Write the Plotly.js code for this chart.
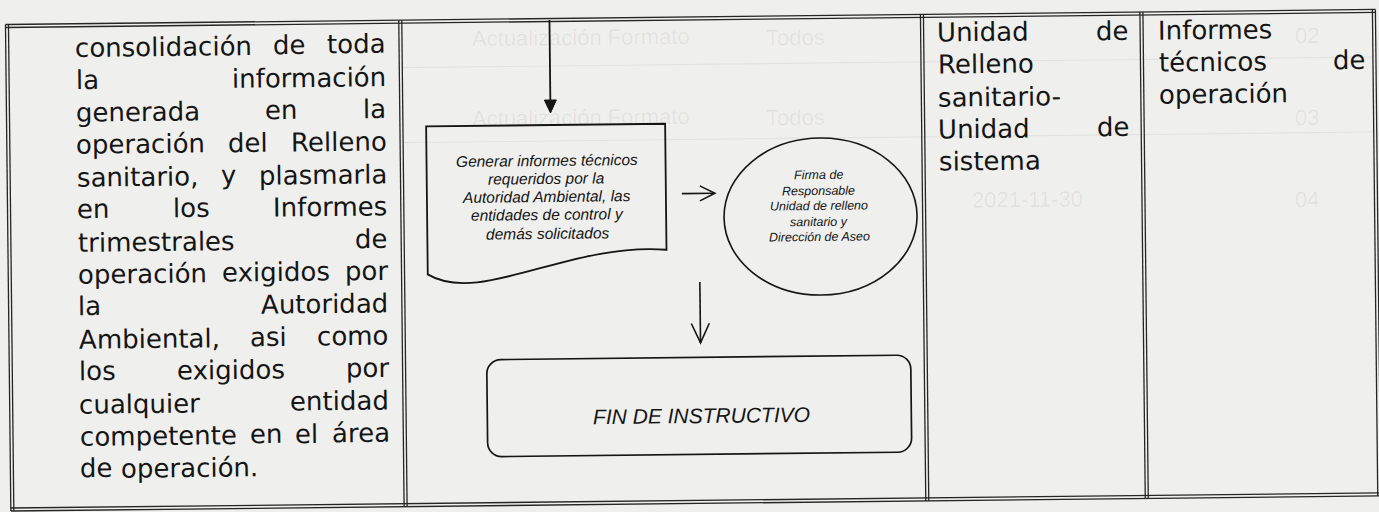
<!DOCTYPE html>
<html><head><meta charset="utf-8">
<script src="https://cdn.plot.ly/plotly-3.0.1.min.js"></script>
<style>html,body{margin:0;padding:0;background:#efefed;} #chart{width:1379px;height:512px;}</style>
</head><body><div id="chart"></div>
<script>
// ---------- content ----------
const leftRows = [
  "consolidación de toda",
  "la información",
  "generada en la",
  "operación del Relleno",
  "sanitario, y plasmarla",
  "en los Informes",
  "trimestrales de",
  "operación exigidos por",
  "la Autoridad",
  "Ambiental, asi como",
  "los exigidos por",
  "cualquier entidad",
  "competente en el área",
  "de operación."
];
const unitRows = ["Unidad de", "Relleno", "sanitario-", "Unidad de", "sistema"];
const outputRows = ["Informes", "técnicos de", "operación"];
const docLines = ["Generar informes técnicos", "requeridos por la", "Autoridad Ambiental, las", "entidades de control y", "demás solicitados"];
const ellipseLines = ["Firma de", "Responsable", "Unidad de relleno", "sanitario y", "Dirección de Aseo"];
const endLabel = "FIN DE INSTRUCTIVO";
// faint show-through from the reverse side of the scanned sheet
const ghostLabels = ["Actualización Formato", "Todos", "Actualización Formato", "Todos", "2021-11-30", "02", "03", "04"];

// ---------- page geometry (scan is slightly rotated) ----------
const O = {x: 7, y: 26}, S = 0.011, C = Math.sqrt(1 - S * S);
const ANG = -Math.asin(S) * 180 / Math.PI;
function P(u, v) { return [O.x + u * C + v * S, O.y - u * S + v * C]; }
function pt(u, v) { const p = P(u, v); return p[0].toFixed(2) + ',' + p[1].toFixed(2); }

const W = 1367, H = 483.5;
const colU = [0, 393.3, 915, 1134.5, W];

const INK = '#151515', LINE = '#262626';
const shapes = [];
function pathShape(d, w, col, fill) {
  shapes.push({type: 'path', xref: 'x', yref: 'y', path: d,
    line: {color: col || LINE, width: w}, fillcolor: fill || 'rgba(0,0,0,0)'});
}
function dbl(u1, v1, u2, v2) {
  const du = u2 - u1, dv = v2 - v1, L = Math.hypot(du, dv);
  const nu = -dv / L, nv = du / L, o = 1.5;
  [-o, o].forEach(k => pathShape('M' + pt(u1 + nu * k, v1 + nv * k) + ' L' + pt(u2 + nu * k, v2 + nv * k), 1.3));
}
// faint ruled lines showing through
[46, 121].forEach(v => pathShape('M' + pt(395, v) + ' L' + pt(W, v), 1.2, 'rgba(0,0,0,0.05)'));

// table borders
dbl(-1.5, 0, W + 1.5, 0);
dbl(-1.5, H, W + 1.5, H);
colU.forEach(u => dbl(u, -1.5, u, H + 1.5));

// down arrow into document
pathShape('M' + pt(542.5, 0) + ' L' + pt(542.5, 82), 1.8, INK);
pathShape('M' + pt(536.5, 80) + ' L' + pt(548.5, 80) + ' L' + pt(542.5, 93) + ' Z', 1, INK, INK);

// document shape
pathShape('M' + pt(418, 105) + ' L' + pt(657, 105) + ' L' + pt(657, 231) +
  ' C' + pt(560, 222) + ' ' + pt(470, 285) + ' ' + pt(418, 253) + ' Z', 1.8, INK);

// right arrow
pathShape('M' + pt(673, 175) + ' L' + pt(706, 175), 1.6, INK);
pathShape('M' + pt(691, 167.5) + ' L' + pt(706, 175) + ' L' + pt(691, 182.5), 1.6, INK);

// ellipse
(function () {
  const cu = 811.4, cv = 199.5, ru = 96.5, rv = 78.5, k = 0.5523;
  const d = 'M' + pt(cu + ru, cv) +
    ' C' + pt(cu + ru, cv + k * rv) + ' ' + pt(cu + k * ru, cv + rv) + ' ' + pt(cu, cv + rv) +
    ' C' + pt(cu - k * ru, cv + rv) + ' ' + pt(cu - ru, cv + k * rv) + ' ' + pt(cu - ru, cv) +
    ' C' + pt(cu - ru, cv - k * rv) + ' ' + pt(cu - k * ru, cv - rv) + ' ' + pt(cu, cv - rv) +
    ' C' + pt(cu + k * ru, cv - rv) + ' ' + pt(cu + ru, cv - k * rv) + ' ' + pt(cu + ru, cv) + ' Z';
  pathShape(d, 1.6, INK);
})();

// down arrow to end
pathShape('M' + pt(690, 263.5) + ' L' + pt(690, 324.5), 1.6, INK);
pathShape('M' + pt(681, 305) + ' L' + pt(690, 324.5) + ' L' + pt(699, 305), 1.6, INK);

// rounded rectangle
(function () {
  const u0 = 476, u1 = 900, v0 = 339, v1 = 436, r = 14, k = 0.5523 * r;
  const d = 'M' + pt(u0 + r, v0) + ' L' + pt(u1 - r, v0) +
    ' C' + pt(u1 - r + k, v0) + ' ' + pt(u1, v0 + r - k) + ' ' + pt(u1, v0 + r) +
    ' L' + pt(u1, v1 - r) +
    ' C' + pt(u1, v1 - r + k) + ' ' + pt(u1 - r + k, v1) + ' ' + pt(u1 - r, v1) +
    ' L' + pt(u0 + r, v1) +
    ' C' + pt(u0 + r - k, v1) + ' ' + pt(u0, v1 - r + k) + ' ' + pt(u0, v1 - r) +
    ' L' + pt(u0, v0 + r) +
    ' C' + pt(u0, v0 + r - k) + ' ' + pt(u0 + r - k, v0) + ' ' + pt(u0 + r, v0) + ' Z';
  pathShape(d, 1.7, INK);
})();

// ---------- text ----------
const annotations = [];
const ctx = document.createElement('canvas').getContext('2d');
function measure(t, size, fam) { ctx.font = size + "px '" + fam + "'"; return ctx.measureText(t).width; }
function word(t, u, v, size, fam, anchor, italic, color) {
  const p = P(u, v);
  annotations.push({x: p[0], y: p[1], xref: 'x', yref: 'y', text: italic ? '<i>' + t + '</i>' : t,
    showarrow: false, xanchor: anchor, yanchor: 'middle', borderpad: 0, borderwidth: 0,
    textangle: ANG, font: {family: fam, size: size, color: color || INK}});
}
const VF = 'DejaVu Sans', VS = 26;
function justify(rows, u0, u1, v0, dv) {
  rows.forEach((row, i) => {
    const words = row.split(' ');
    const ws = words.map(w => measure(w, VS, VF));
    const sum = ws.reduce((a, b) => a + b, 0);
    const last = i === rows.length - 1;
    const gap = (words.length === 1 || last) ? measure(' ', VS, VF) : (u1 - u0 - sum) / (words.length - 1);
    let u = u0;
    const v = v0 + i * dv;
    words.forEach((w, j) => { word(w, u, v, VS, VF, 'left'); u += ws[j] + gap; });
  });
}
justify(leftRows, 68, 378, 22, 32.4);
justify(unitRows, 930, 1121, 16.5, 32.2);
justify(outputRows, 1151, 1358, 16.5, 32.2);

const AF = 'Liberation Sans';
docLines.forEach((t, i) => word(t, 538, 140 + i * 18.3, 15.5, AF, 'center', true));
ellipseLines.forEach((t, i) => word(t, 810, 158 + i * 15.5, 12.5, AF, 'center', true));
word(endLabel, 690, 397, 21, AF, 'center', true);

// ghost texts (very faint)
const ghostPos = [[690, 37, 'right'], [795, 37, 'center'], [690, 117, 'right'], [795, 117, 'center'],
  [1027, 199, 'center'], [1307, 35, 'center'], [1307, 117, 'center'], [1307, 199, 'center']];
ghostLabels.forEach((t, i) => annotations.push({x: ghostPos[i][0], y: ghostPos[i][1], xref: 'x', yref: 'y', text: t,
  showarrow: false, xanchor: ghostPos[i][2], yanchor: 'middle', textangle: ANG, borderpad: 0, borderwidth: 0,
  font: {family: AF, size: 22, color: 'rgba(0,0,0,0.06)'}}));

const layout = {
  width: 1379, height: 512, margin: {l: 0, r: 0, t: 0, b: 0, pad: 0},
  paper_bgcolor: '#efefed', plot_bgcolor: '#efefed', showlegend: false,
  xaxis: {range: [0, 1379], visible: false, fixedrange: true},
  yaxis: {range: [512, 0], visible: false, fixedrange: true},
  shapes: shapes, annotations: annotations
};
Plotly.newPlot('chart', [{x: [0], y: [0], mode: 'markers', marker: {opacity: 0}, hoverinfo: 'skip'}], layout,
  {staticPlot: true, displayModeBar: false});
</script></body></html>
